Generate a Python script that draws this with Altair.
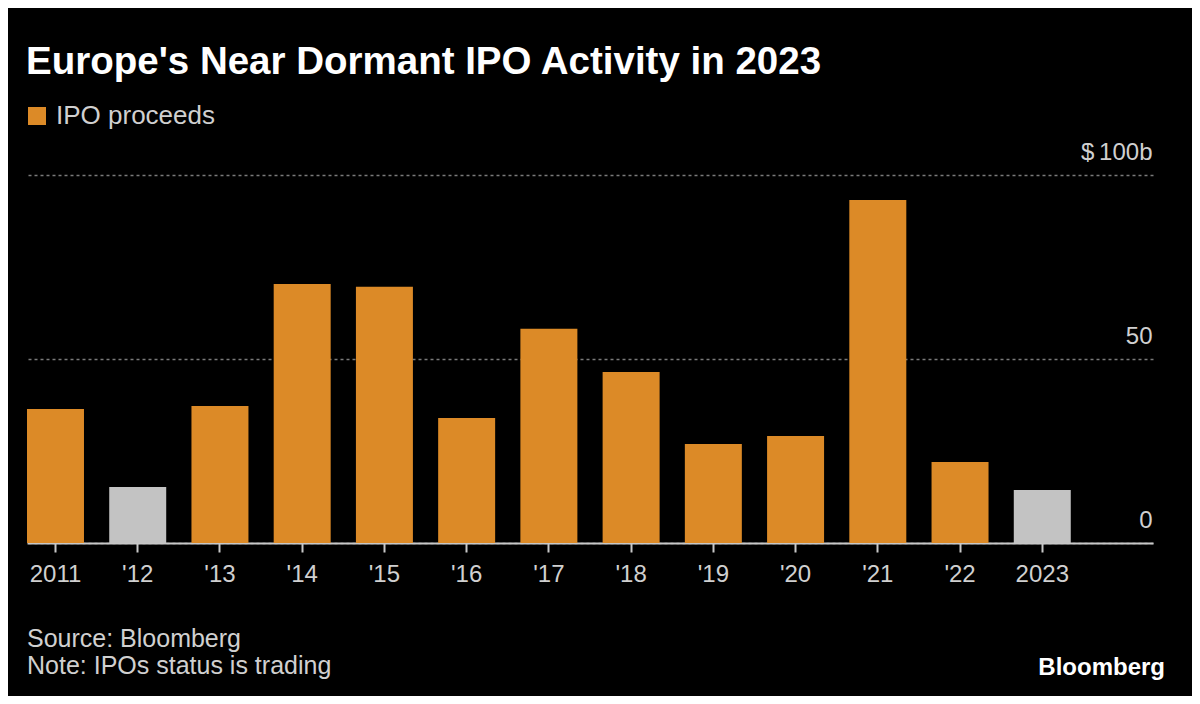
import altair as alt
import pandas as pd

# ---- data ----
years = ["2011", "'12", "'13", "'14", "'15", "'16", "'17", "'18", "'19", "'20", "'21", "'22", "2023"]
proceeds = [36.4, 15.2, 37.2, 70.4, 69.6, 34.0, 58.2, 46.5, 26.9, 29.1, 93.2, 22.0, 14.4]
series = ["IPO proceeds", "Highlight", "IPO proceeds", "IPO proceeds", "IPO proceeds",
          "IPO proceeds", "IPO proceeds", "IPO proceeds", "IPO proceeds", "IPO proceeds",
          "IPO proceeds", "IPO proceeds", "Highlight"]
y_ticks = [0, 50, 100]

title_text = "Europe's Near Dormant IPO Activity in 2023"
source_text = "Source: Bloomberg"
note_text = "Note: IPOs status is trading"
brand_text = "Bloomberg"

ORANGE = "#dc8a27"
GRAY = "#c3c3c3"
FONT = "Liberation Sans"

df = pd.DataFrame({"year": years, "value": proceeds, "series": series})
x_domain = years + ["pad"]

bars = alt.Chart(df).mark_bar().encode(
    x=alt.X(
        "year:N",
        sort=x_domain,
        scale=alt.Scale(domain=x_domain, paddingInner=0.307, paddingOuter=0),
        axis=alt.Axis(
            values=years, title=None, labelAngle=0, grid=False,
            domainColor="#c8c8c8", domainWidth=2,
            tickColor="#c8c8c8", tickSize=9, tickWidth=2,
            labelFont=FONT, labelFontSize=24, labelColor="#d0d0d0",
            labelPadding=10,
        ),
    ),
    y=alt.Y(
        "value:Q",
        scale=alt.Scale(domain=[0, 100], nice=False),
        axis=alt.Axis(
            orient="right", values=y_ticks, title=None,
            labelExpr="datum.value == 100 ? '$\u2009100b' : datum.label",
            domain=False, ticks=False,
            grid=True, gridDash=[3, 3], gridColor="#7a7a7a", gridWidth=1.5,
            labelFont=FONT, labelFontSize=24, labelColor="#d0d0d0",
            labelAlign="right", labelBaseline="alphabetic",
            labelPadding=-1, labelOffset=-16,
        ),
    ),
    color=alt.Color(
        "series:N",
        scale=alt.Scale(domain=["IPO proceeds", "Highlight"], range=[ORANGE, GRAY]),
        legend=alt.Legend(
            values=["IPO proceeds"], title=None, orient="none",
            legendX=-3, legendY=-72, direction="horizontal",
            symbolType="square", symbolSize=324, symbolStrokeWidth=0,
            symbolOpacity=1, labelFont=FONT, labelFontSize=26,
            labelColor="#d0d0d0", labelOffset=6, padding=0,
        ),
    ),
)

def footer(text, x, y, size, color, weight="normal", align="left"):
    return alt.Chart(pd.DataFrame({"t": [text]})).mark_text(
        align=align, baseline="alphabetic", font=FONT, fontSize=size,
        color=color, fontWeight=weight,
    ).encode(x=alt.value(x), y=alt.value(y), text="t:N")

src = footer(source_text, 0, 472, 25, "#d0d0d0")
note = footer(note_text, 0, 499, 25, "#d0d0d0")
brand = footer(brand_text, 1138, 500, 24, "#ffffff", weight="bold", align="right")

chart = alt.layer(bars, src, note, brand).properties(
    width=1126,
    height=368,
    autosize=alt.AutoSizeParams(type="none"),
    padding={"left": 19, "top": 167, "right": 39, "bottom": 153},
    background="black",
    title=alt.TitleParams(
        title_text, anchor="start", font=FONT, fontSize=38.5, fontWeight="bold",
        color="white", offset=21, dx=2,
    ),
).configure_view(stroke=None)

chart.save("out.html", embed_options={"renderer": "svg", "actions": False})
